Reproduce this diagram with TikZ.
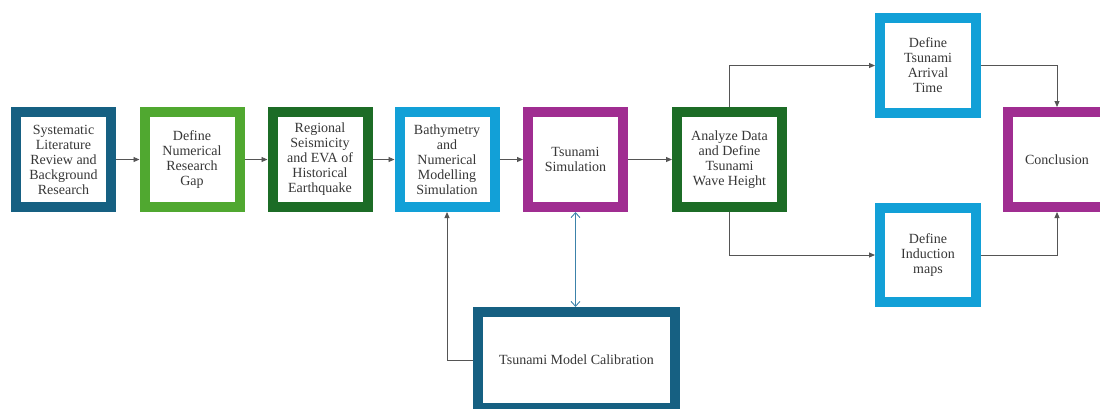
\documentclass[tikz,border=0pt]{standalone}
\usepackage{fontspec}
\setmainfont{Liberation Serif}
\usetikzlibrary{arrows.meta}
\definecolor{stepnavy}{RGB}{22,96,130}
\definecolor{steplime}{RGB}{80,168,48}
\definecolor{stepforest}{RGB}{28,108,38}
\definecolor{stepsky}{RGB}{18,160,215}
\definecolor{stepplum}{RGB}{160,45,145}
\definecolor{linkgray}{RGB}{85,85,85}
\definecolor{linkteal}{RGB}{60,130,170}
\definecolor{textgray}{RGB}{55,55,55}
\tikzset{
  stepbox/.style={
    draw=#1,
    line width=10pt,
    fill=white,
    outer sep=5pt,
    minimum width=95pt,
    minimum height=95pt,
    align=center,
    text=textgray,
    font=\fontsize{14}{15}\selectfont
  },
  flow/.style={
    draw=linkgray,
    line width=0.9pt,
    -{Triangle[length=6pt,width=5pt]}
  },
  calib/.style={
    draw=linkteal,
    line width=0.9pt,
    {Straight Barb[length=5pt,width=9pt]}-{Straight Barb[length=5pt,width=9pt]}
  }
}

\begin{document}
\begin{tikzpicture}[x=1pt,y=-1pt]
  \useasboundingbox (0,0) rectangle (1100,408);
  % main chain
  \node[stepbox=stepnavy] (sys) at (63.5,159.5)
    {Systematic\\Literature\\Review and\\Background\\Research};
  \node[stepbox=steplime] (def) at (192,159.5)
    {Define\\Numerical\\Research\\Gap};
  \node[stepbox=stepforest] (reg) at (320,159.5)
    {Regional\\Seismicity\\and EVA of\\Historical\\Earthquake};
  \node[stepbox=stepsky] (bat) at (447,159.5)
    {Bathymetry\\and\\Numerical\\Modelling\\Simulation};
  \node[stepbox=stepplum] (sim) at (575.5,159.5)
    {Tsunami\\Simulation};
  \node[stepbox=stepforest, minimum width=105pt] (ana) at (729.5,159.5)
    {Analyze Data\\and Define\\Tsunami\\Wave Height};
  % outputs
  \node[stepbox=stepsky, minimum width=96pt] (arr) at (928,65.5)
    {Define\\Tsunami\\Arrival\\Time};
  \node[stepbox=stepsky, minimum width=96pt, minimum height=94pt] (ind) at (928,255)
    {Define\\Induction\\maps};
  \node[stepbox=stepplum, minimum width=98pt] (con) at (1057,159.5)
    {Conclusion};
  \node[stepbox=stepnavy, minimum width=197pt, minimum height=96pt] (cal) at (576.5,360)
    {Tsunami Model Calibration};

  \draw[flow] (sys) -- (def);
  \draw[flow] (def) -- (reg);
  \draw[flow] (reg) -- (bat);
  \draw[flow] (bat) -- (sim);
  \draw[flow] (sim) -- (ana);
  \draw[flow] (ana.north) |- (arr.west);
  \draw[flow] (ana.south) |- (ind.west);
  \draw[flow] (arr.east) -| (con.north);
  \draw[flow] (ind.east) -| (con.south);
  \draw[flow] (cal.west) -| (bat.south);
  \draw[calib] (sim.south) -- (sim.south |- cal.north);
\end{tikzpicture}
\end{document}
